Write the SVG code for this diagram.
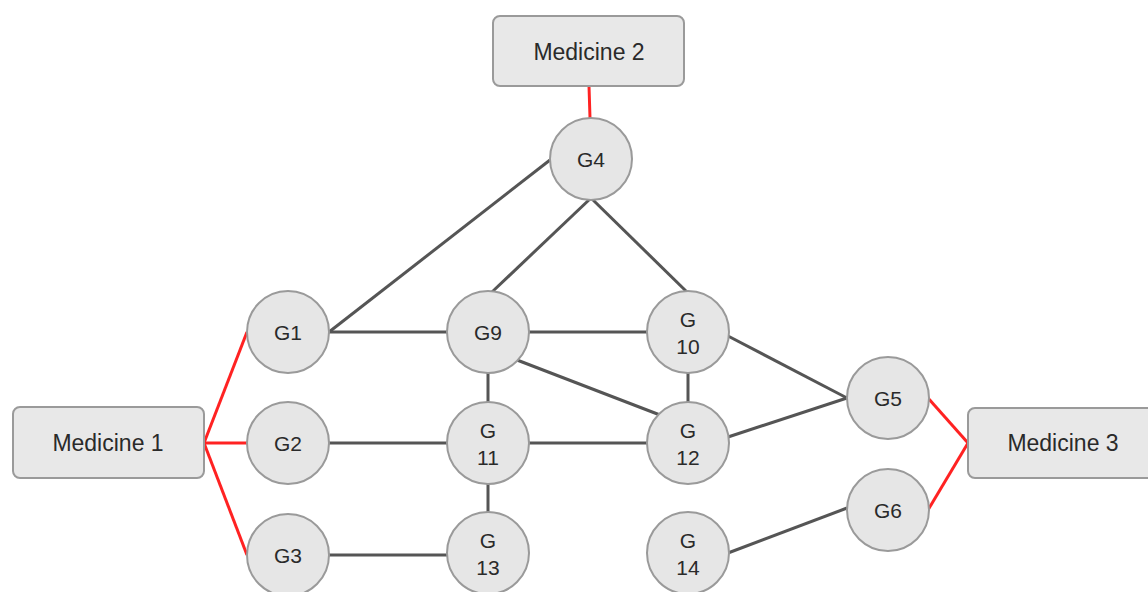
<svg xmlns="http://www.w3.org/2000/svg" width="1148" height="592" viewBox="0 0 1148 592">
<style>
.box{fill:#e8e8e8;stroke:#9a9a9a;stroke-width:2}
.n{fill:#e6e6e6;stroke:#9a9a9a;stroke-width:2}
.t{font-family:"Liberation Sans",Arial,sans-serif;font-size:21px;fill:#2a2a2a;text-anchor:middle}
.m{font-size:23px}
.e{stroke:#555;stroke-width:3;fill:none}
.r{stroke:#f22;stroke-width:3;fill:none}
</style>
<rect width="1148" height="592" fill="#fff"/>
<g id="connectors">
<line class="r" x1="589" y1="86" x2="590" y2="118"/>
<line class="r" x1="204" y1="443" x2="247" y2="332"/>
<line class="r" x1="204" y1="443" x2="247" y2="443"/>
<line class="r" x1="204" y1="443" x2="247" y2="555"/>
<line class="r" x1="968" y1="443" x2="928" y2="398"/>
<line class="r" x1="968" y1="443" x2="928" y2="510"/>
<line class="e" x1="329" y1="332" x2="550" y2="160"/>
<line class="e" x1="591" y1="198" x2="492" y2="292"/>
<line class="e" x1="591" y1="198" x2="687" y2="292"/>
<line class="e" x1="329" y1="332" x2="447" y2="332"/>
<line class="e" x1="529" y1="332" x2="647" y2="332"/>
<line class="e" x1="517" y1="360" x2="660" y2="415"/>
<line class="e" x1="688" y1="373" x2="688" y2="402"/>
<line class="e" x1="488" y1="373" x2="488" y2="402"/>
<line class="e" x1="488" y1="484" x2="488" y2="512"/>
<line class="e" x1="329" y1="443" x2="447" y2="443"/>
<line class="e" x1="529" y1="443" x2="647" y2="443"/>
<line class="e" x1="329" y1="555" x2="447" y2="555"/>
<line class="e" x1="728" y1="336" x2="847" y2="398"/>
<line class="e" x1="728" y1="437" x2="847" y2="398"/>
<line class="e" x1="728" y1="553" x2="847" y2="508"/>
</g>
<g id="medicine2"><rect class="box" x="493" y="16" width="191" height="70" rx="7"/><text class="t m" x="589" y="60">Medicine 2</text></g>
<g id="medicine1"><rect class="box" x="13" y="407" width="191" height="71" rx="7"/><text class="t m" x="108" y="451">Medicine 1</text></g>
<g id="medicine3"><rect class="box" x="968" y="408" width="191" height="70" rx="7"/><text class="t m" x="1063" y="451">Medicine 3</text></g>
<g id="g4"><circle class="n" cx="591" cy="159" r="41"/><text class="t" x="591" y="167">G4</text></g>
<g id="g1"><circle class="n" cx="288" cy="332" r="41"/><text class="t" x="288" y="340">G1</text></g>
<g id="g2"><circle class="n" cx="288" cy="443" r="41"/><text class="t" x="288" y="451">G2</text></g>
<g id="g3"><circle class="n" cx="288" cy="555" r="41"/><text class="t" x="288" y="563">G3</text></g>
<g id="g9"><circle class="n" cx="488" cy="332" r="41"/><text class="t" x="488" y="340">G9</text></g>
<g id="g10"><circle class="n" cx="688" cy="332" r="41"/><text class="t" x="688" y="327">G</text><text class="t" x="688" y="354">10</text></g>
<g id="g11"><circle class="n" cx="488" cy="443" r="41"/><text class="t" x="488" y="438">G</text><text class="t" x="488" y="465">11</text></g>
<g id="g12"><circle class="n" cx="688" cy="443" r="41"/><text class="t" x="688" y="438">G</text><text class="t" x="688" y="465">12</text></g>
<g id="g13"><circle class="n" cx="488" cy="553" r="41"/><text class="t" x="488" y="548">G</text><text class="t" x="488" y="575">13</text></g>
<g id="g14"><circle class="n" cx="688" cy="553" r="41"/><text class="t" x="688" y="548">G</text><text class="t" x="688" y="575">14</text></g>
<g id="g5"><circle class="n" cx="888" cy="398" r="41"/><text class="t" x="888" y="406">G5</text></g>
<g id="g6"><circle class="n" cx="888" cy="510" r="41"/><text class="t" x="888" y="518">G6</text></g>
</svg>
